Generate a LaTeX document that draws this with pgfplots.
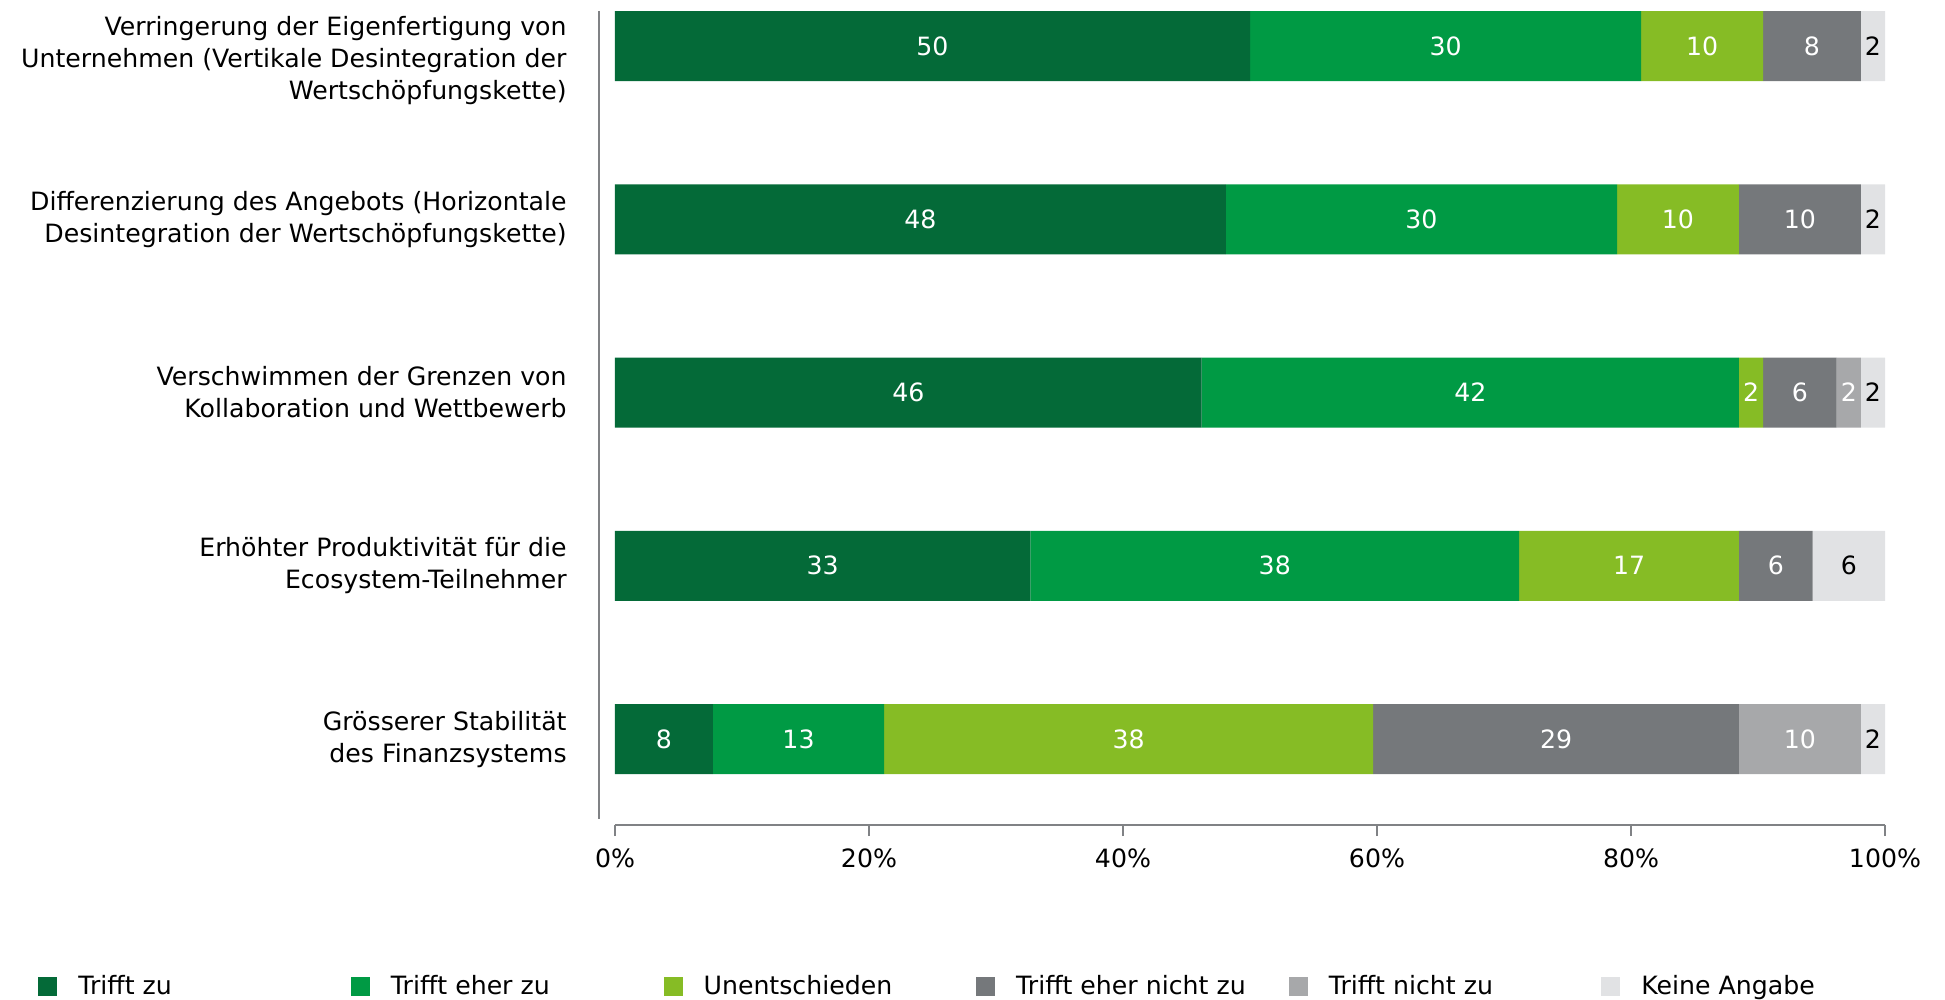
\documentclass[border=0pt]{standalone}
\usepackage{pgfplots}
\pgfplotsset{compat=1.18}
\usepackage{pgfplotstable}
\usepackage{fontspec}
\setmainfont{DejaVu Sans}
\definecolor{cA}{HTML}{046A38}
\definecolor{cB}{HTML}{009A44}
\definecolor{cC}{HTML}{86BC25}
\definecolor{cD}{HTML}{75787B}
\definecolor{cE}{HTML}{A7A8AA}
\definecolor{cF}{HTML}{E1E2E4}
\definecolor{axisgray}{HTML}{808285}
\pgfplotstableread{
y  tz   tzl  tez  tezl un   unl  tenz tenzl tnz tnzl ka  kal
0  50.0 50   30.8 30   9.6  10   7.7  8     0.0 {}   1.9 2
1  48.1 48   30.8 30   9.6  10   9.6  10    0.0 {}   1.9 2
2  46.2 46   42.3 42   1.9  2    5.8  6     1.9 2    1.9 2
3  32.7 33   38.5 38   17.3 17   5.8  6     0.0 {}   5.7 6
4  7.7  8    13.5 13   38.5 38   28.8 29    9.6 10   1.9 2
}\data
\newcommand{\fs}{\fontsize{12.6pt}{16pt}\selectfont}
\begin{document}
\begin{tikzpicture}[font=\fs]
\useasboundingbox (0,0) rectangle (972.5pt,-500pt);
\begin{axis}[
  at={(307.5pt,-412.5pt)}, anchor=south west,
  scale only axis, width=635pt, height=407pt,
  xbar stacked, bar width=35pt,
  xmin=0, xmax=100, ymin=-0.202, ymax=4.496, y dir=reverse,
  axis x line=bottom, axis y line=left,
  x axis line style={-, draw=axisgray, line width=1pt},
  y axis line style={draw=none},
  xtick={0,20,40,60,80,100},
  xticklabels={0\%,20\%,40\%,60\%,80\%,100\%},
  tick align=outside, major tick length=5.5pt,
  xtick style={draw=axisgray, line width=1pt},
  ytick={1,2,3,4},
  yticklabels={
    {Differenzierung des Angebots (Horizontale\\Desintegration der Wertschöpfungskette)},
    {Verschwimmen der Grenzen von\\Kollaboration und Wettbewerb},
    {Erhöhter Produktivität für die\\Ecosystem-Teilnehmer},
    {Grösserer Stabilität\\des Finanzsystems}},
  extra y ticks={0},
  extra y tick labels={{Verringerung der Eigenfertigung von\\Unternehmen (Vertikale Desintegration der\\Wertschöpfungskette)}},
  extra y tick style={yticklabel style={yshift=-7.5pt}},
  ytick style={draw=none},
  tick label style={font=\fs, text=black},
  /pgf/number format/assume math mode=true,
  yticklabel style={align=right, anchor=east, inner sep=0pt, xshift=-18.5pt},
  xticklabel style={anchor=north, inner sep=0pt, yshift=-6pt},
  point meta=explicit symbolic,
  nodes near coords,
  every node near coord/.append style={font=\fs, text=white, anchor=center, inner sep=0pt},
  legend columns=6,
  legend cell align=left,
  legend style={at={(axis description cs:0,0)}, anchor=west, xshift=-288.5pt, yshift=-80.5pt,
     draw=none, fill=none, inner sep=0pt, font=\fs,
     /tikz/every even column/.append style={column sep=0pt},
     nodes={inner sep=0pt}},
  legend image code/.code={\fill[#1,draw=none] (0pt,-4.75pt) rectangle (9.5pt,4.75pt);},
]
\addplot[fill=cA, draw=none] table[x=tz, y=y, meta=tzl] {\data};
\addlegendentry{\makebox[146.8pt][l]{\hspace{10.5pt}Trifft zu}}
\addplot[fill=cB, draw=none] table[x=tez, y=y, meta=tezl] {\data};
\addlegendentry{\makebox[146.8pt][l]{\hspace{10.5pt}Trifft eher zu}}
\addplot[fill=cC, draw=none] table[x=un, y=y, meta=unl] {\data};
\addlegendentry{\makebox[146.8pt][l]{\hspace{10.5pt}Unentschieden}}
\addplot[fill=cD, draw=none] table[x=tenz, y=y, meta=tenzl] {\data};
\addlegendentry{\makebox[146.8pt][l]{\hspace{10.5pt}Trifft eher nicht zu}}
\addplot[fill=cE, draw=none] table[x=tnz, y=y, meta=tnzl] {\data};
\addlegendentry{\makebox[146.8pt][l]{\hspace{10.5pt}Trifft nicht zu}}
\addplot[fill=cF, draw=none, every node near coord/.append style={text=black}] table[x=ka, y=y, meta=kal] {\data};
\addlegendentry{\makebox[146.8pt][l]{\hspace{10.5pt}Keine Angabe}}
\end{axis}
\draw[axisgray, line width=1pt] (299.5pt,-5.5pt) -- (299.5pt,-409.5pt);
\end{tikzpicture}
\end{document}
